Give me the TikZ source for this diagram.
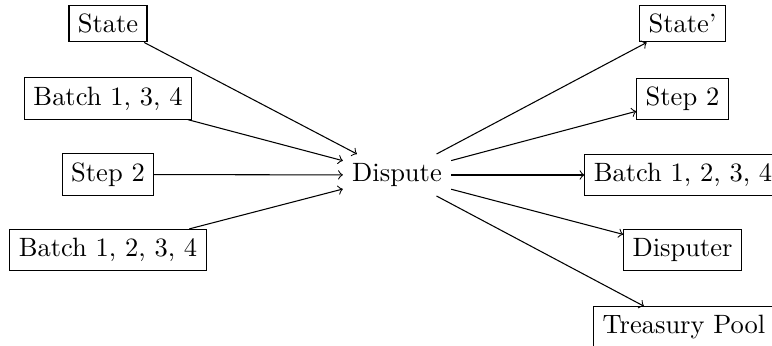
\documentclass[tikz,border=0pt]{standalone}
\begin{document}
\begin{tikzpicture}[x=0.3774pt,y=-0.3774pt,
  box/.style={draw, line width=0.4pt},
  plain/.style={inner sep=0.3333em},
  conn/.style={->, line width=0.4pt}]
\useasboundingbox (0,0) rectangle (772,346);
\clip (0,0) rectangle (772,346);
% left column
\node[box] (lstate) at (108,23.5) {State};
\node[box] (lb134) at (108,98.5) {Batch 1, 3, 4};
\node[box] (lstep) at (108,174.5) {Step 2};
\node[box] (lb1234) at (108,250) {Batch 1, 2, 3, 4};
% centre
\node[plain] (disp) at (397,175) {Dispute};
% right column
\node[box] (rstate) at (682.5,23.5) {State'};
\node[box] (rstep) at (682.5,99) {Step 2};
\node[box] (rb1234) at (683,175) {Batch 1, 2, 3, 4};
\node[box] (rdisp) at (682.5,250) {Disputer};
\node[box] (rpool) at (684,327.5) {Treasury Pool};
% connectors
\draw[conn] (lstate) -- (disp);
\draw[conn] (lb134) -- (disp);
\draw[conn] (lstep) -- (disp);
\draw[conn] (lb1234) -- (disp);
\draw[conn] (disp) -- (rstate);
\draw[conn] (disp) -- (rstep);
\draw[conn] (disp) -- (rb1234);
\draw[conn] (disp) -- (rdisp);
\draw[conn] (disp) -- (rpool);
\end{tikzpicture}
\end{document}
